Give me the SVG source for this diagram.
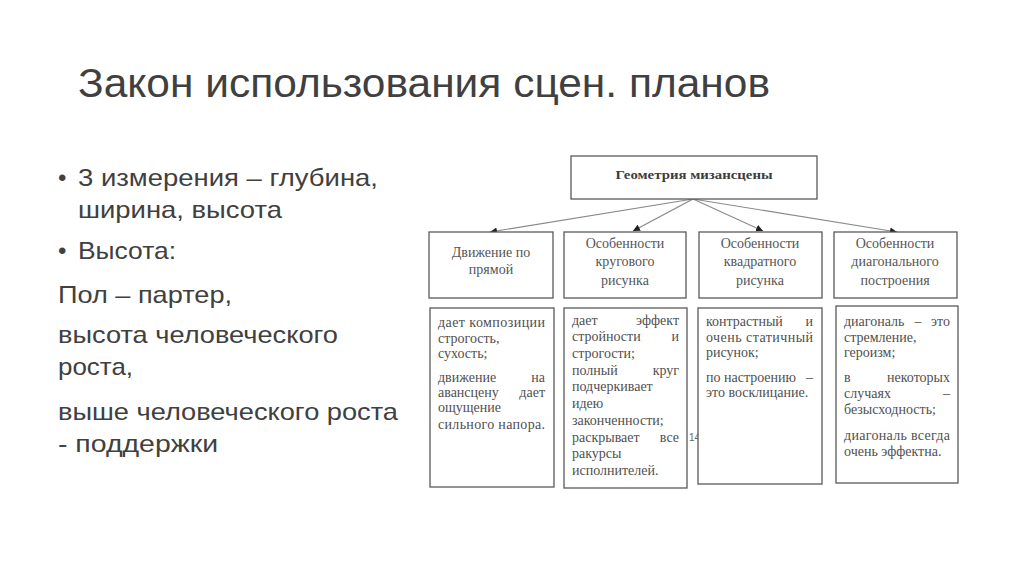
<svg xmlns="http://www.w3.org/2000/svg" width="1024" height="574" viewBox="0 0 1024 574">
<defs>
<style>
.title{font-family:"Liberation Sans",Arial,sans-serif;font-size:40px;fill:#404040}
.lt{font-family:"Liberation Sans",Arial,sans-serif;font-size:24px;fill:#404040}
.box{fill:#fff;stroke:#5a5a5a;stroke-width:1.3}
.shadow{fill:none;stroke:#3a3a3a;stroke-width:1.6}
.hd{font-family:"Liberation Serif","Times New Roman",serif;font-size:14px;fill:#555;text-anchor:middle}
.top{font-family:"Liberation Serif","Times New Roman",serif;font-size:13.5px;font-weight:bold;fill:#3c3c3c;text-anchor:middle}
.bd{font-family:"Liberation Serif","Times New Roman",serif;font-size:14px;fill:#505050}
.r{text-anchor:end}
.m{text-anchor:middle}
.conn{stroke:#8a8a8a;stroke-width:1.2;fill:none}
</style>
<marker id="ah" markerUnits="userSpaceOnUse" markerWidth="8" markerHeight="8" refX="7" refY="4" orient="auto">
<path d="M0,0.5 L7,4 L0,7.5 Z" fill="#222"/>
</marker>
</defs>
<rect width="1024" height="574" fill="#fff"/>

<g id="slide-title">
<text class="title" x="78" y="97" textLength="692" lengthAdjust="spacingAndGlyphs">Закон использования сцен. планов</text>
</g>

<g id="left-text">
<text class="lt" x="58" y="186">•</text>
<text class="lt" x="78" y="186" textLength="300" lengthAdjust="spacingAndGlyphs">3 измерения – глубина,</text>
<text class="lt" x="78" y="218" textLength="204" lengthAdjust="spacingAndGlyphs">ширина, высота</text>
<text class="lt" x="58" y="259">•</text>
<text class="lt" x="78" y="259" textLength="98" lengthAdjust="spacingAndGlyphs">Высота:</text>
<text class="lt" x="58" y="303" textLength="174" lengthAdjust="spacingAndGlyphs">Пол – партер,</text>
<text class="lt" x="58" y="343" textLength="280" lengthAdjust="spacingAndGlyphs">высота человеческого</text>
<text class="lt" x="58" y="375" textLength="75" lengthAdjust="spacingAndGlyphs">роста,</text>
<text class="lt" x="58" y="420" textLength="340" lengthAdjust="spacingAndGlyphs">выше человеческого роста</text>
<text class="lt" x="58" y="452" textLength="160" lengthAdjust="spacingAndGlyphs">- поддержки</text>
</g>

<g id="connectors">
<line class="conn" x1="693" y1="199" x2="490" y2="232" marker-end="url(#ah)"/>
<line class="conn" x1="693" y1="199" x2="633" y2="231" marker-end="url(#ah)"/>
<line class="conn" x1="693" y1="199" x2="763" y2="231" marker-end="url(#ah)"/>
<line class="conn" x1="693" y1="199" x2="897" y2="232" marker-end="url(#ah)"/>
</g>

<g id="node-top">
<rect class="box" x="571" y="156" width="246" height="43"/>
<text class="top" x="694" y="179" textLength="157" lengthAdjust="spacingAndGlyphs">Геометрия мизансцены</text>
</g>

<g id="node-h1">
<rect class="box" x="429" y="232" width="124" height="66"/>
<text class="hd" x="491" y="257">Движение по</text>
<text class="hd" x="491" y="274">прямой</text>
</g>
<g id="node-h2">
<rect class="box" x="564" y="232" width="122" height="66"/>
<text class="hd" x="625" y="248">Особенности</text>
<text class="hd" x="625" y="266">кругового</text>
<text class="hd" x="625" y="285">рисунка</text>
</g>
<g id="node-h3">
<rect class="box" x="699" y="232" width="123" height="66"/>
<text class="hd" x="760" y="248">Особенности</text>
<text class="hd" x="760" y="266">квадратного</text>
<text class="hd" x="760" y="285">рисунка</text>
</g>
<g id="node-h4">
<rect class="box" x="834" y="232" width="123" height="66"/>
<text class="hd" x="895" y="248">Особенности</text>
<text class="hd" x="895" y="266">диагонального</text>
<text class="hd" x="895" y="285">построения</text>
</g>

<g id="node-b1">
<rect class="box" x="430" y="308" width="124" height="179"/>
<text class="bd" x="438" y="327" textLength="107" lengthAdjust="spacing">дает композиции</text>
<text class="bd" x="438" y="343">строгость,</text>
<text class="bd" x="438" y="358">сухость;</text>
<text class="bd" x="438" y="382">движение</text><text class="bd r" x="545" y="382">на</text>
<text class="bd" x="438" y="397">авансцену</text><text class="bd r" x="545" y="397">дает</text>
<text class="bd" x="438" y="412">ощущение</text>
<text class="bd" x="438" y="429" textLength="107" lengthAdjust="spacing">сильного напора.</text>
</g>

<g id="node-b2">
<rect class="box" x="564" y="308" width="123" height="180"/>
<text class="bd" x="572" y="325">дает</text><text class="bd r" x="679" y="325">эффект</text>
<text class="bd" x="572" y="341">стройности</text><text class="bd r" x="679" y="341">и</text>
<text class="bd" x="572" y="358">строгости;</text>
<text class="bd" x="572" y="375">полный</text><text class="bd r" x="679" y="375">круг</text>
<text class="bd" x="572" y="391">подчеркивает</text>
<text class="bd" x="572" y="408">идею</text>
<text class="bd" x="572" y="425">законченности;</text>
<text class="bd" x="572" y="442">раскрывает</text><text class="bd r" x="679" y="442">все</text>
<text class="bd" x="572" y="458">ракурсы</text>
<text class="bd" x="572" y="475">исполнителей.</text>
</g>

<g id="page-number">
<text x="689" y="441" font-family="Liberation Sans,Arial,sans-serif" font-size="10" fill="#666">14</text>
</g>

<g id="node-b3">
<rect class="box" x="698" y="308" width="124" height="176"/>
<text class="bd" x="706" y="326">контрастный</text><text class="bd r" x="813" y="326">и</text>
<text class="bd" x="706" y="342" textLength="107" lengthAdjust="spacing">очень статичный</text>
<text class="bd" x="706" y="357">рисунок;</text>
<text class="bd" x="706" y="382">по настроению</text><text class="bd r" x="813" y="382">–</text>
<text class="bd" x="706" y="397">это восклицание.</text>
</g>

<g id="node-b4">
<rect class="box" x="836" y="306" width="122" height="177"/>
<text class="bd" x="844" y="326">диагональ</text><text class="bd m" x="918" y="326">–</text><text class="bd r" x="950" y="326">это</text>
<text class="bd" x="844" y="342">стремление,</text>
<text class="bd" x="844" y="357">героизм;</text>
<text class="bd" x="844" y="382">в</text><text class="bd r" x="950" y="382">некоторых</text>
<text class="bd" x="844" y="398">случаях</text><text class="bd r" x="950" y="398">–</text>
<text class="bd" x="844" y="414">безысходность;</text>
<text class="bd" x="844" y="440" textLength="106" lengthAdjust="spacing">диагональ всегда</text>
<text class="bd" x="844" y="456">очень эффектна.</text>
</g>
</svg>
